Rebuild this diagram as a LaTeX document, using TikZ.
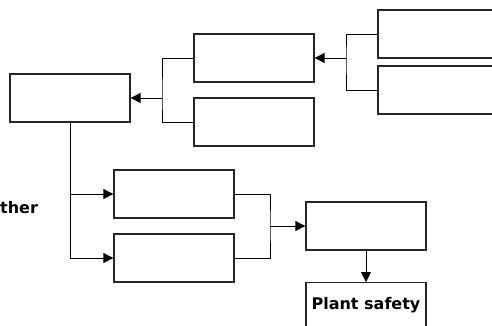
\documentclass[tikz,border=0pt]{standalone}
\usepackage{fontspec}
\setmainfont{DejaVu Sans}
\usetikzlibrary{arrows.meta}
\begin{document}
\begin{tikzpicture}[x=1pt,y=-1pt,
  box/.style={draw=black!85,line width=1.3pt,minimum width=120pt,minimum height=48pt,inner sep=0pt,fill=white},
  conn/.style={draw=black,line width=0.9pt},
  arr/.style={conn,-{Triangle[length=10pt,width=10pt]}},
  lbl/.style={font=\fontsize{16}{18}\selectfont\bfseries}]
\clip (0,0) rectangle (492,325);
\fill[white] (0,0) rectangle (492,325);
% boxes
\node[box] (A) at (70,98) {};
\node[box] (B) at (254,58) {};
\node[box] (C) at (254,122) {};
\node[box] (D) at (438,34) {};
\node[box] (E) at (438,90) {};
\node[box] (F) at (174,194) {};
\node[box] (G) at (174,258) {};
\node[box] (H) at (366,226) {};
\node[box,anchor=north] (I) at (366,282) {};
\node[lbl] (Itxt) at (366,305) {Plant safety};
\node[lbl,anchor=west,inner sep=0pt] (other) at (0,208) {ther};
% junction coordinates
\coordinate (j1) at (162,98);
\coordinate (j2) at (346,58);
\coordinate (j3) at (70,194);
\coordinate (j4) at (270,226);
% B,C -> A
\draw[conn] (B.west) -| (j1) |- (C.west);
\draw[arr] (j1) -- (A.east);
% D,E -> B
\draw[conn] (D.west) -| (j2) |- (E.west);
\draw[arr] (j2) -- (B.east);
% A -> F,G
\draw[conn] (A.south) -- (j3);
\draw[arr] (j3) -- (F.west);
\draw[arr] (A.south) |- (G.west);
% F,G -> H
\draw[conn] (F.east) -| (j4) |- (G.east);
\draw[arr] (j4) -- (H.west);
% H -> I
\draw[arr] (H.south) -- (I.north);
\end{tikzpicture}
\end{document}
